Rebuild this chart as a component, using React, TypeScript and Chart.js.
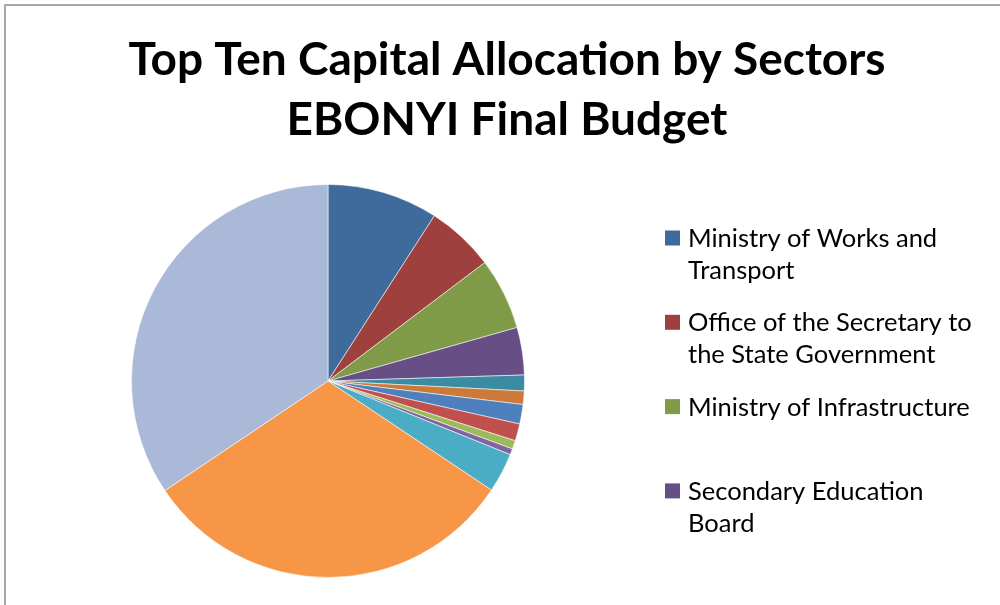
import React, { useEffect, useRef } from "react";
import { Chart, registerables } from "chart.js";

Chart.register(...registerables);

const titleLines = ["Top Ten Capital Allocation by Sectors", "EBONYI Final Budget"];

const sectors = [
  "Ministry of Works and Transport",
  "Office of the Secretary to the State Government",
  "Ministry of Infrastructure",
  "Secondary Education Board",
  "Sector 5",
  "Sector 6",
  "Sector 7",
  "Sector 8",
  "Sector 9",
  "Sector 10",
  "Sector 11",
  "Sector 12",
  "Sector 13",
];

const shares = [9.1, 5.6, 5.9, 3.9, 1.3, 1.1, 1.6, 1.4, 0.7, 0.5, 3.25, 31.2, 34.4];

const sliceColors = [
  "#3E6A9C",
  "#9E413E",
  "#7F9B48",
  "#674F86",
  "#3B8CA2",
  "#CB7A3A",
  "#4D80BD",
  "#C0504D",
  "#9BBB59",
  "#8064A2",
  "#4BACC6",
  "#F79646",
  "#A9B9D7",
];

const legendVisibleCount = 4;

function wrapText(ctx: CanvasRenderingContext2D, text: string, maxWidth: number): string[] {
  const words = text.split(" ");
  const lines: string[] = [];
  let cur = "";
  for (const w of words) {
    const test = cur ? cur + " " + w : w;
    if (ctx.measureText(test).width > maxWidth && cur) {
      lines.push(cur);
      cur = w;
    } else {
      cur = test;
    }
  }
  if (cur) lines.push(cur);
  return lines;
}

const decorPlugin = {
  id: "decor",
  beforeDraw(chart: any) {
    const ctx = chart.ctx as CanvasRenderingContext2D;
    ctx.save();
    ctx.fillStyle = "#ffffff";
    ctx.fillRect(0, 0, chart.width, chart.height);
    // frame
    ctx.strokeStyle = "#A8A8A8";
    ctx.lineWidth = 2;
    ctx.beginPath();
    ctx.moveTo(5, chart.height + 5);
    ctx.lineTo(5, 5);
    ctx.lineTo(chart.width + 5, 5);
    ctx.stroke();
    ctx.restore();
  },
  afterDraw(chart: any) {
    const ctx = chart.ctx as CanvasRenderingContext2D;
    ctx.save();
    // title
    ctx.fillStyle = "#000000";
    ctx.textAlign = "center";
    ctx.textBaseline = "alphabetic";
    ctx.font = "bold 46px Lato";
    titleLines.forEach((t, i) => {
      ctx.fillText(t, 507, 75 + i * 60);
    });
    // legend
    ctx.textAlign = "left";
    ctx.font = "25.5px Lato";
    const labels = chart.data.labels as string[];
    const colors = chart.data.datasets[0].backgroundColor as string[];
    for (let i = 0; i < Math.min(legendVisibleCount, labels.length); i++) {
      const cy = 238 + i * 84.3;
      ctx.fillStyle = colors[i];
      ctx.fillRect(665, cy - 7.5, 15, 15);
      ctx.fillStyle = "#000000";
      const lines = wrapText(ctx, labels[i], 295);
      lines.forEach((ln, j) => {
        ctx.fillText(ln, 688, cy + 9 + j * 32);
      });
    }
    ctx.restore();
  },
};

export default function App() {
  const canvasRef = useRef<HTMLCanvasElement | null>(null);

  useEffect(() => {
    if (!canvasRef.current) return;
    const chart = new Chart(canvasRef.current, {
      type: "pie",
      data: {
        labels: sectors,
        datasets: [
          {
            data: shares,
            backgroundColor: sliceColors,
            borderColor: "rgba(255,255,255,0.55)",
            borderWidth: 1,
          },
        ],
      },
      options: {
        responsive: false,
        animation: false,
        layout: { padding: { left: 131, right: 475, top: 184, bottom: 27 } },
        plugins: {
          legend: { display: false },
          title: { display: false },
          tooltip: { enabled: false },
        },
      },
      plugins: [decorPlugin],
    });
    return () => chart.destroy();
  }, []);

  return (
    <div style={{ position: "fixed", left: 0, top: 0, width: 1000, height: 605, background: "#fff" }}>
      <canvas ref={canvasRef} width={1000} height={605} style={{ display: "block" }} />
    </div>
  );
}
